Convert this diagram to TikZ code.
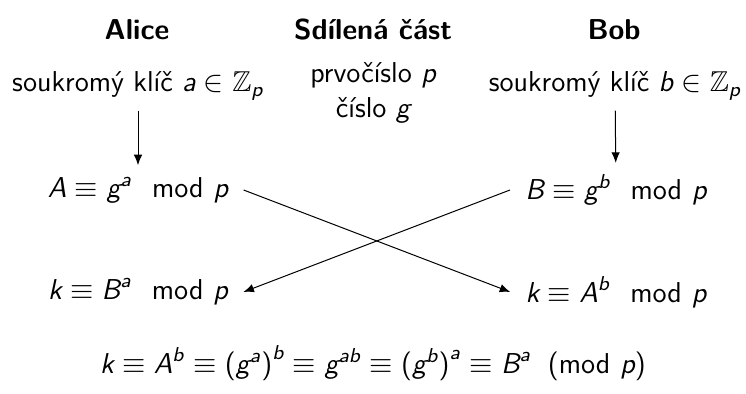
\documentclass[tikz,border=0pt]{standalone}
\usepackage{amsmath,amssymb}
\usetikzlibrary{arrows.meta}
\newcommand\mv[1]{\text{\sffamily\slshape #1}}
\newcommand\sfop[1]{\text{\sffamily\upshape #1}}
\begin{document}
\begin{tikzpicture}[x=0.4pt,y=-0.4pt,
  every node/.style={font=\sffamily\fontsize{11.5}{14}\selectfont},
  head/.style={font=\sffamily\bfseries\fontsize{11.5}{14}\selectfont},
  txt/.style={inner sep=2pt, align=center},
  eq/.style={inner ysep=2pt, inner xsep=6pt},
  conn/.style={-{Latex[length=4.2pt,width=3.4pt]}, thin}]
\useasboundingbox (0,0) rectangle (746,393);
\node[head] (hA) at (137,30) {Alice};
\node[head] (hS) at (373,30) {Sdílená část};
\node[head] (hB) at (614,30) {Bob};
\node[txt] (pA) at (138,86) {soukromý klíč $\mv{a}\in\mathbb{Z}_{\mv{p}}$};
\node[txt] (pS) at (373,93) {prvočíslo $\mv{p}$\\číslo $\mv{g}$};
\node[txt] (pB) at (615,86) {soukromý klíč $\mv{b}\in\mathbb{Z}_{\mv{p}}$};
\node[eq] (A) at (138,190) {$\mv{A}\equiv \mv{g}^{\mv{a}} \mkern12mu\sfop{mod}\,\,\mv{p}$};
\node[eq] (B) at (616,190) {$\mv{B}\equiv \mv{g}^{\mv{b}} \mkern12mu\sfop{mod}\,\,\mv{p}$};
\node[eq] (kA) at (138,292) {$\mv{k}\equiv \mv{B}^{\mv{a}} \mkern12mu\sfop{mod}\,\,\mv{p}$};
\node[eq] (kB) at (616,292) {$\mv{k}\equiv \mv{A}^{\mv{b}} \mkern12mu\sfop{mod}\,\,\mv{p}$};
\node (fin) at (373,363) {$\mv{k}\equiv \mv{A}^{\mv{b}}\equiv \sfop{(}\mv{g}^{\mv{a}}\sfop{)}^{\mv{b}}\equiv \mv{g}^{\mv{ab}}\equiv \sfop{(}\mv{g}^{\mv{b}}\sfop{)}^{\mv{a}}\equiv \mv{B}^{\mv{a}} \mkern10mu\sfop{(mod}\,\,\mv{p}\sfop{)}$};
\draw[conn, shorten <=2pt, shorten >=2.5pt] (pA) -- (A);
\draw[conn, shorten <=2pt, shorten >=2.5pt] (pB) -- (B);
\draw[conn] (A.east) -- (kB.west);
\draw[conn] (B.west) -- (kA.east);
\end{tikzpicture}
\end{document}
